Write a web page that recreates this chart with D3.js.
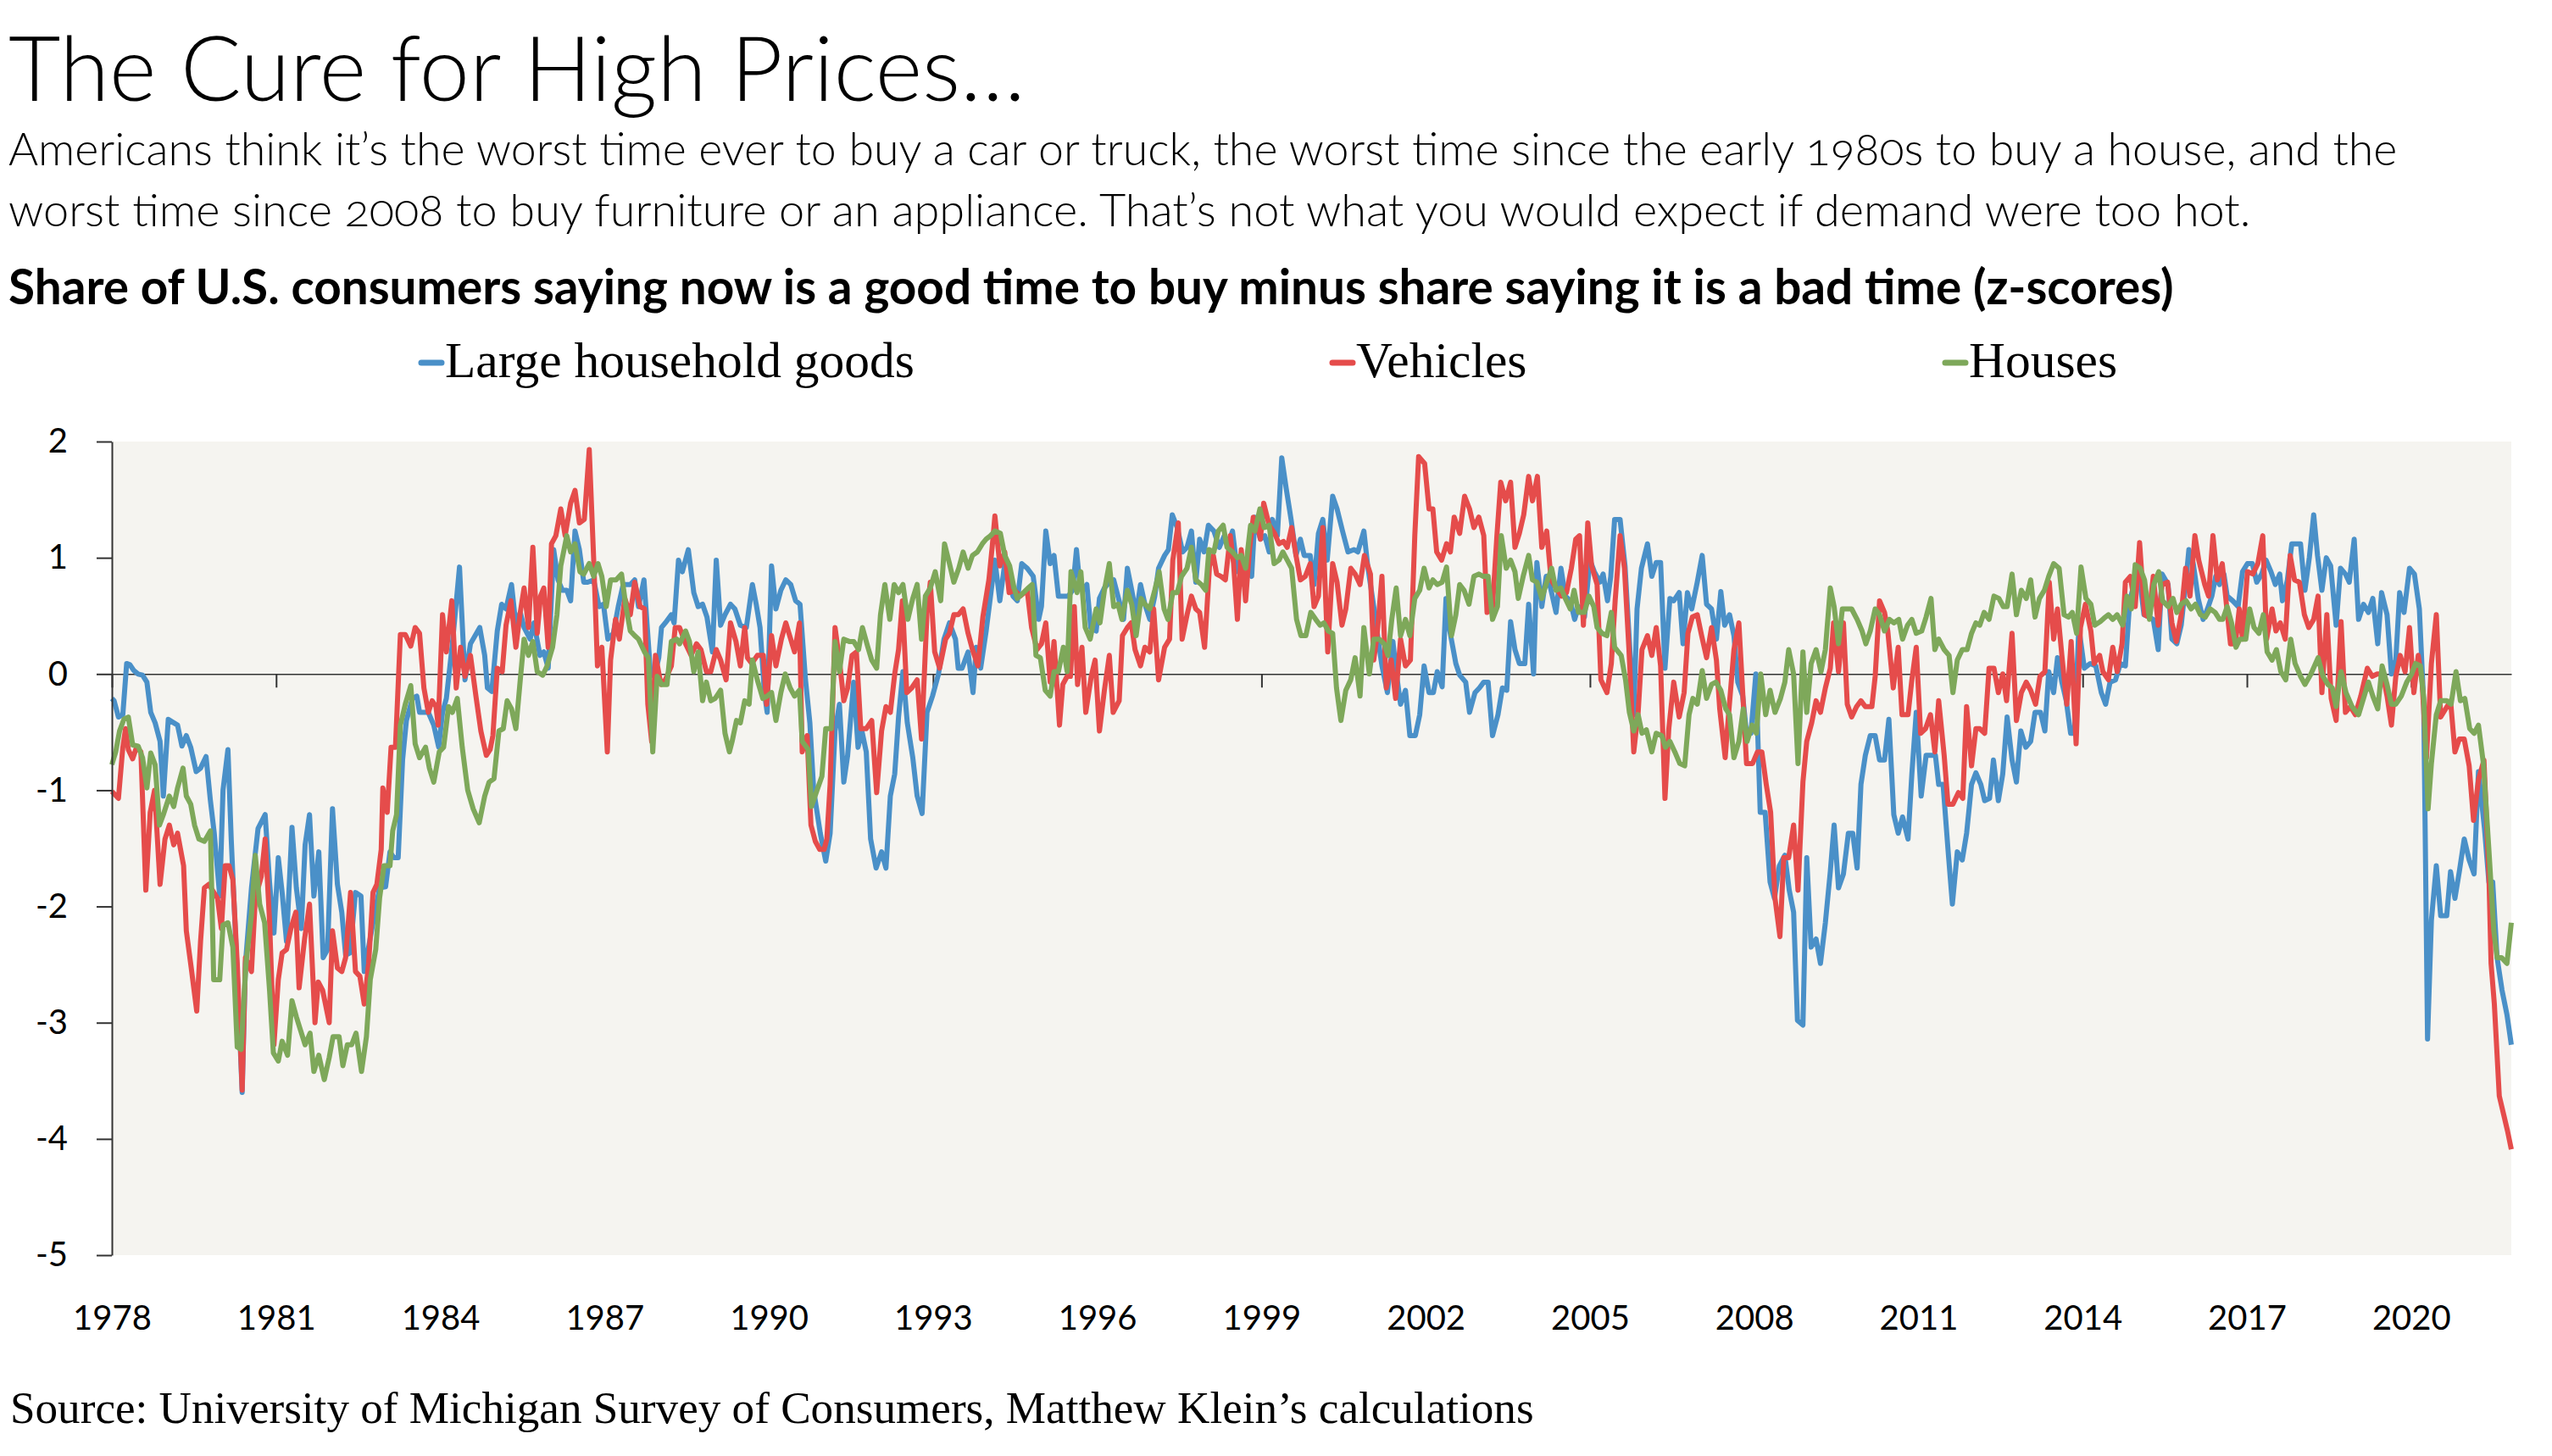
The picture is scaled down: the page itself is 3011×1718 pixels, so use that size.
<!DOCTYPE html>
<html>
<head>
<meta charset="utf-8">
<script src="https://cdn.jsdelivr.net/npm/d3@7"></script>
<style>
  html, body { margin: 0; padding: 0; background: #ffffff; }
  svg { display: block; }
  .oldnum { font-variant-numeric: oldstyle-nums; font-feature-settings: "onum" 1; }
</style>
</head>
<body>
<svg id="chart" width="3011" height="1718"></svg>
<script>
// ---------------- DATA ----------------
const seriesNames = ["Large household goods", "Vehicles", "Houses"];
const xTickYears = [1978, 1981, 1984, 1987, 1990, 1993, 1996, 1999, 2002, 2005, 2008, 2011, 2014, 2017, 2020];
const yTickValues = [2, 1, 0, -1, -2, -3, -4, -5];
const xDomainYears = [1978, 2021.83];

// [decimal year, z-score]
const householdGoods = [
[1978.00,-0.21],[1978.04,-0.23],[1978.12,-0.37],[1978.20,-0.35],[1978.27,0.09],[1978.33,0.08],[1978.40,0.03],[1978.48,0],[1978.56,-0.01],[1978.64,-0.07],[1978.71,-0.33],[1978.79,-0.42],[1978.88,-0.58],[1978.94,-1.05],
[1979.03,-0.39],[1979.13,-0.42],[1979.20,-0.44],[1979.28,-0.62],[1979.36,-0.53],[1979.44,-0.63],[1979.54,-0.84],[1979.62,-0.81],[1979.72,-0.71],[1979.80,-1.09],[1979.87,-1.37],[1979.97,-1.91],
[1980.03,-1.0],[1980.12,-0.65],[1980.18,-1.42],[1980.29,-2.58],[1980.38,-3.6],[1980.44,-2.49],[1980.55,-1.84],[1980.67,-1.33],[1980.80,-1.21],[1980.88,-1.79],[1980.96,-2.23],
[1981.04,-1.58],[1981.11,-1.88],[1981.19,-2.3],[1981.29,-1.32],[1981.37,-1.84],[1981.46,-2.19],[1981.53,-1.47],[1981.61,-1.21],[1981.69,-1.91],[1981.78,-1.53],[1981.86,-2.44],[1981.94,-2.37],
[1982.03,-1.16],[1982.12,-1.81],[1982.20,-2.05],[1982.27,-2.42],[1982.35,-2.4],[1982.45,-1.88],[1982.55,-1.91],[1982.61,-2.56],[1982.69,-2.35],[1982.77,-2.14],[1982.89,-1.84],
[1983.00,-1.83],[1983.08,-1.53],[1983.15,-1.58],[1983.23,-1.58],[1983.31,-0.74],[1983.38,-0.4],[1983.49,-0.21],[1983.57,-0.19],[1983.62,-0.33],[1983.78,-0.33],[1983.88,-0.44],[1983.97,-0.63],
[1984.04,-0.33],[1984.11,-0.21],[1984.22,0.26],[1984.35,0.92],[1984.45,-0.05],[1984.55,0.26],[1984.72,0.4],[1984.81,0.16],[1984.86,-0.12],[1984.94,-0.15],
[1985.04,0.37],[1985.12,0.6],[1985.20,0.56],[1985.30,0.77],[1985.38,0.42],[1985.46,0.53],[1985.53,0.4],[1985.64,0.3],[1985.71,0.44],[1985.82,0.16],[1985.89,0.19],[1985.97,0.05],
[1986.07,1.07],[1986.15,0.81],[1986.23,0.72],[1986.31,0.72],[1986.38,0.63],[1986.46,1.23],[1986.54,1.07],[1986.62,0.79],[1986.69,0.79],[1986.80,0.81],[1986.90,0.58],[1986.98,0.6],
[1987.06,0.3],[1987.16,0.35],[1987.25,0.58],[1987.34,0.77],[1987.47,0.77],[1987.55,0.81],[1987.62,0.58],[1987.72,0.81],[1987.78,0.4],[1987.84,0],[1987.91,-0.02],[1987.99,0.14],
[1988.04,0.4],[1988.11,0.44],[1988.22,0.51],[1988.27,0.44],[1988.35,0.98],[1988.42,0.88],[1988.53,1.07],[1988.63,0.7],[1988.71,0.58],[1988.79,0.6],[1988.87,0.49],[1988.97,0.19],
[1989.04,0.98],[1989.12,0.42],[1989.20,0.51],[1989.30,0.6],[1989.38,0.56],[1989.48,0.42],[1989.59,0.4],[1989.70,0.77],[1989.77,0.6],[1989.84,0.4],[1989.92,-0.16],[1989.97,-0.33],
[1990.05,0.93],[1990.13,0.56],[1990.22,0.72],[1990.31,0.81],[1990.40,0.77],[1990.49,0.63],[1990.57,0.6],[1990.67,-0.05],[1990.75,-0.42],[1990.82,-1.0],[1990.94,-1.37],
[1991.04,-1.61],[1991.12,-1.37],[1991.21,-0.49],[1991.29,-0.26],[1991.37,-0.93],[1991.44,-0.7],[1991.55,-0.07],[1991.63,-0.63],[1991.70,-0.49],[1991.78,-0.67],[1991.86,-1.42],[1991.96,-1.67],
[1992.06,-1.53],[1992.14,-1.67],[1992.22,-1.05],[1992.30,-0.86],[1992.37,-0.37],[1992.45,0.02],[1992.53,-0.42],[1992.63,-0.72],[1992.71,-1.05],[1992.80,-1.2],[1992.89,-0.33],[1992.99,-0.19],
[1993.10,0],[1993.20,0.3],[1993.30,0.44],[1993.41,0.3],[1993.46,0.05],[1993.53,0.05],[1993.64,0.19],[1993.73,-0.16],[1993.79,0.23],[1993.87,0.05],[1993.97,0.37],
[1994.05,0.67],[1994.13,0.98],[1994.22,0.63],[1994.31,0.95],[1994.39,0.81],[1994.46,0.67],[1994.54,0.63],[1994.62,0.95],[1994.72,0.91],[1994.83,0.84],[1994.93,0.47],[1994.98,0.58],
[1995.06,1.23],[1995.14,0.95],[1995.21,1.02],[1995.29,0.67],[1995.47,0.67],[1995.55,0.72],[1995.62,1.07],[1995.68,0.77],[1995.73,0.72],[1995.81,0.77],[1995.88,0.4],[1995.98,0.37],
[1996.04,0.65],[1996.13,0.74],[1996.22,0.79],[1996.30,0.81],[1996.40,0.63],[1996.48,0.47],[1996.55,0.91],[1996.63,0.72],[1996.71,0.51],[1996.79,0.77],[1996.87,0.6],[1996.96,0.47],
[1997.05,0.67],[1997.12,0.91],[1997.23,1.02],[1997.30,1.07],[1997.37,1.37],[1997.46,1.26],[1997.56,1.05],[1997.64,1.09],[1997.72,1.23],[1997.80,0.79],[1997.87,1.16],[1997.95,1.05],
[1998.03,1.28],[1998.13,1.23],[1998.23,1.09],[1998.32,1.19],[1998.39,1.12],[1998.47,1.23],[1998.56,0.88],[1998.65,0.95],[1998.72,0.95],[1998.82,0.84],[1998.88,1.35],[1998.98,1.16],
[1999.06,1.19],[1999.14,1.05],[1999.20,1.33],[1999.29,1.19],[1999.37,1.86],[1999.45,1.6],[1999.54,1.33],[1999.63,1.02],[1999.71,1.16],[1999.78,1.02],[1999.89,1.02],[1999.96,0.77],
[2000.04,1.21],[2000.12,1.33],[2000.20,0.98],[2000.30,1.53],[2000.38,1.42],[2000.48,1.23],[2000.58,1.05],[2000.69,1.07],[2000.76,1.05],[2000.87,1.23],[2000.94,0.93],
[2001.05,0.58],[2001.13,0.3],[2001.20,0.07],[2001.30,-0.16],[2001.40,0.28],[2001.46,0.02],[2001.54,-0.26],[2001.63,-0.14],[2001.71,-0.53],[2001.81,-0.53],[2001.89,-0.35],[2001.97,0.07],
[2002.06,-0.16],[2002.14,-0.16],[2002.21,0.02],[2002.30,-0.11],[2002.37,0.65],[2002.44,0.37],[2002.55,0.09],[2002.62,-0.01],[2002.73,-0.07],[2002.80,-0.33],[2002.90,-0.16],[2002.98,-0.12],
[2003.06,-0.07],[2003.14,-0.07],[2003.22,-0.53],[2003.32,-0.35],[2003.40,-0.12],[2003.48,-0.14],[2003.55,0.45],[2003.63,0.21],[2003.71,0.09],[2003.81,0.09],[2003.88,0.6],[2003.97,0],
[2004.03,0.96],[2004.12,0.58],[2004.20,0.84],[2004.28,0.74],[2004.38,0.53],[2004.47,0.91],[2004.55,0.67],[2004.64,0.63],[2004.72,0.47],[2004.79,0.58],[2004.90,0.49],
[2005.00,0.98],[2005.08,0.88],[2005.18,0.79],[2005.24,0.86],[2005.32,0.63],[2005.38,0.84],[2005.45,1.33],[2005.55,1.33],[2005.64,0.93],[2005.72,0.28],[2005.80,-0.35],[2005.86,0.56],[2005.94,0.91],
[2006.05,1.12],[2006.13,0.84],[2006.21,0.96],[2006.29,0.96],[2006.37,0.05],[2006.46,0.65],[2006.53,0.63],[2006.63,0.7],[2006.70,0.26],[2006.78,0.7],[2006.86,0.56],[2006.96,0.79],
[2007.05,1.02],[2007.13,0.6],[2007.22,0.56],[2007.31,0.3],[2007.39,0.71],[2007.46,0.42],[2007.55,0.51],[2007.63,0.33],[2007.70,-0.07],[2007.79,-0.19],[2007.86,-0.51],[2007.94,-0.51],
[2008.03,0],[2008.11,-1.19],[2008.20,-1.19],[2008.29,-1.79],[2008.37,-1.93],[2008.46,-1.65],[2008.56,-1.56],[2008.64,-1.86],[2008.72,-2.05],[2008.79,-2.98],[2008.89,-3.02],[2008.96,-1.58],
[2009.04,-2.35],[2009.13,-2.28],[2009.21,-2.49],[2009.30,-2.14],[2009.39,-1.7],[2009.46,-1.3],[2009.54,-1.84],[2009.63,-1.72],[2009.72,-1.37],[2009.80,-1.37],[2009.88,-1.67],[2009.95,-0.95],
[2010.03,-0.7],[2010.12,-0.53],[2010.21,-0.53],[2010.29,-0.74],[2010.38,-0.74],[2010.46,-0.39],[2010.55,-1.21],[2010.63,-1.37],[2010.71,-1.23],[2010.81,-1.42],[2010.88,-0.86],[2010.96,-0.33],
[2011.05,-1.05],[2011.14,-0.7],[2011.23,-0.7],[2011.31,-0.7],[2011.37,-0.95],[2011.45,-0.95],[2011.54,-1.51],[2011.62,-1.98],[2011.71,-1.53],[2011.80,-1.6],[2011.88,-1.37],[2011.97,-0.95],
[2012.05,-0.85],[2012.14,-0.95],[2012.21,-1.09],[2012.30,-1.07],[2012.37,-0.74],[2012.46,-1.09],[2012.54,-0.86],[2012.62,-0.37],[2012.71,-0.74],[2012.79,-0.93],[2012.87,-0.49],[2012.96,-0.63],
[2013.05,-0.58],[2013.13,-0.33],[2013.23,-0.33],[2013.31,-0.49],[2013.38,0.02],[2013.47,-0.16],[2013.54,0.14],[2013.62,-0.07],[2013.70,-0.23],[2013.78,-0.51],[2013.85,-0.51],[2013.93,0.4],
[2014.03,0.05],[2014.14,0.09],[2014.24,0.07],[2014.34,-0.16],[2014.42,-0.26],[2014.50,-0.07],[2014.60,-0.05],[2014.69,0.09],[2014.78,0.07],[2014.86,0.63],[2014.95,0.79],
[2015.03,0.86],[2015.12,0.51],[2015.21,0.49],[2015.29,0.47],[2015.38,0.21],[2015.45,0.86],[2015.56,0.77],[2015.63,0.3],[2015.72,0.26],[2015.80,0.42],[2015.88,0.77],[2015.94,1.07],
[2016.02,0.95],[2016.11,0.65],[2016.20,0.47],[2016.28,0.56],[2016.36,0.67],[2016.43,0.84],[2016.50,0.77],[2016.58,0.86],[2016.64,0.67],[2016.74,0.63],[2016.84,0.58],[2016.92,0.88],
[2017.01,0.95],[2017.10,0.95],[2017.18,0.79],[2017.27,0.86],[2017.35,0.98],[2017.44,0.88],[2017.52,0.77],[2017.60,0.86],[2017.65,0.63],[2017.74,0.81],[2017.82,1.12],[2017.91,1.12],[2017.98,1.12],
[2018.06,0.72],[2018.14,1.0],[2018.22,1.37],[2018.29,1.02],[2018.37,0.72],[2018.45,1.0],[2018.53,0.93],[2018.63,0.42],[2018.71,0.91],[2018.80,0.86],[2018.87,0.79],[2018.96,1.16],
[2019.04,0.47],[2019.13,0.6],[2019.22,0.53],[2019.30,0.65],[2019.39,0.26],[2019.46,0.7],[2019.56,0.51],[2019.64,0],[2019.72,0.12],[2019.79,0.7],[2019.87,0.53],[2019.97,0.91],
[2020.06,0.86],[2020.15,0.56],[2020.23,-0.26],[2020.30,-3.14],[2020.37,-2.12],[2020.46,-1.65],[2020.54,-2.08],[2020.65,-2.08],[2020.72,-1.7],[2020.80,-1.93],[2020.88,-1.7],[2020.97,-1.42],
[2021.06,-1.6],[2021.15,-1.72],[2021.23,-0.84],[2021.34,-1.33],[2021.42,-1.79],[2021.49,-1.79],[2021.57,-2.44],[2021.66,-2.72],[2021.75,-2.93],[2021.83,-3.19]
];

const vehicles = [
[1978.00,-1.01],[1978.12,-1.07],[1978.20,-0.63],[1978.25,-0.47],[1978.30,-0.65],[1978.38,-0.73],[1978.45,-0.63],[1978.53,-0.67],[1978.62,-1.86],[1978.70,-1.19],[1978.78,-1.0],[1978.88,-1.81],[1978.97,-1.42],
[1979.05,-1.3],[1979.13,-1.47],[1979.20,-1.37],[1979.31,-1.65],[1979.36,-2.21],[1979.45,-2.53],[1979.55,-2.9],[1979.62,-2.3],[1979.69,-1.84],[1979.77,-1.81],[1979.93,-1.93],
[1980.00,-2.19],[1980.07,-1.65],[1980.14,-1.65],[1980.21,-1.77],[1980.29,-2.49],[1980.38,-3.58],[1980.44,-2.44],[1980.55,-2.56],[1980.62,-1.93],[1980.73,-1.74],[1980.80,-1.42],[1980.88,-2.12],[1980.96,-3.19],
[1981.04,-2.63],[1981.11,-2.4],[1981.19,-2.37],[1981.27,-2.19],[1981.36,-2.05],[1981.42,-2.7],[1981.52,-2.28],[1981.61,-1.98],[1981.71,-3.0],[1981.77,-2.65],[1981.85,-2.72],[1981.97,-3.0],
[1982.03,-2.21],[1982.12,-2.53],[1982.20,-2.56],[1982.27,-2.44],[1982.36,-1.88],[1982.45,-2.56],[1982.53,-2.6],[1982.61,-2.84],[1982.69,-2.49],[1982.77,-1.88],[1982.84,-1.81],[1982.92,-1.51],[1982.95,-0.98],
[1983.03,-1.19],[1983.10,-0.63],[1983.18,-0.63],[1983.27,0.34],[1983.36,0.34],[1983.46,0.24],[1983.54,0.4],[1983.62,0.35],[1983.70,-0.12],[1983.78,-0.33],[1983.85,-0.23],[1983.92,-0.28],[1983.96,-0.44],
[1984.04,0.51],[1984.11,0.19],[1984.21,0.63],[1984.29,-0.12],[1984.37,0.23],[1984.45,-0.02],[1984.55,0.16],[1984.65,-0.19],[1984.74,-0.49],[1984.84,-0.7],[1984.91,-0.65],[1984.96,-0.53],
[1985.04,0.05],[1985.13,0.02],[1985.20,0.42],[1985.29,0.63],[1985.38,0.23],[1985.46,0.53],[1985.53,0.74],[1985.61,0.4],[1985.69,1.09],[1985.77,0.35],[1985.83,0.67],[1985.89,0.74],[1985.97,0.23],
[1986.03,1.12],[1986.11,1.19],[1986.20,1.42],[1986.28,1.19],[1986.38,1.47],[1986.46,1.58],[1986.54,1.3],[1986.63,1.33],[1986.72,1.93],[1986.80,1.0],[1986.87,0.07],[1986.95,0.23],
[1987.05,-0.67],[1987.11,0.12],[1987.20,0.47],[1987.27,0.3],[1987.37,0.65],[1987.47,0.51],[1987.55,0.79],[1987.65,0.58],[1987.73,0.56],[1987.79,-0.26],[1987.86,-0.58],[1987.93,0.16],
[1988.03,-0.09],[1988.11,-0.05],[1988.22,0.07],[1988.29,0.4],[1988.37,0.4],[1988.48,0.26],[1988.58,0.16],[1988.68,0.26],[1988.76,0.21],[1988.86,0.02],[1988.94,0.02],
[1989.04,0.21],[1989.12,0.12],[1989.22,-0.05],[1989.30,0.44],[1989.40,0.28],[1989.48,0.07],[1989.56,0.4],[1989.61,0.14],[1989.69,0.09],[1989.79,0.16],[1989.90,0.16],[1989.96,-0.26],
[1990.05,0.33],[1990.13,0.07],[1990.23,0.3],[1990.31,0.44],[1990.40,0.3],[1990.47,0.19],[1990.56,0.44],[1990.61,-0.67],[1990.70,-0.53],[1990.77,-1.3],[1990.85,-1.44],[1990.93,-1.51],
[1991.01,-1.51],[1991.06,-1.42],[1991.12,-0.95],[1991.21,0.4],[1991.29,0.12],[1991.37,-0.23],[1991.44,-0.12],[1991.52,0.16],[1991.60,0.19],[1991.68,-0.47],[1991.78,-0.47],[1991.88,-0.4],[1991.97,-1.02],
[1992.06,-0.49],[1992.14,-0.28],[1992.22,-0.33],[1992.30,0],[1992.37,0.21],[1992.44,0.63],[1992.52,-0.16],[1992.61,-0.12],[1992.71,-0.05],[1992.79,-0.56],[1992.89,0.53],[1992.95,0.79],
[1993.03,0.19],[1993.12,0.05],[1993.23,0.3],[1993.30,0.35],[1993.38,0.51],[1993.46,0.51],[1993.55,0.56],[1993.64,0.35],[1993.72,0.21],[1993.82,0.07],[1993.91,0.49],
[1994.02,0.81],[1994.08,1.09],[1994.13,1.36],[1994.22,0.93],[1994.31,1.05],[1994.39,0.7],[1994.49,0.72],[1994.59,0.67],[1994.72,0.72],[1994.80,0.4],[1994.90,0.21],[1994.98,0.26],
[1995.06,0.44],[1995.14,-0.07],[1995.21,0.28],[1995.31,-0.44],[1995.37,-0.09],[1995.45,-0.02],[1995.51,-0.02],[1995.58,0.58],[1995.64,-0.09],[1995.72,0.23],[1995.79,-0.33],[1995.89,-0.02],[1995.96,0.12],
[1996.04,-0.49],[1996.13,-0.14],[1996.22,0.16],[1996.29,-0.33],[1996.40,-0.23],[1996.46,0.33],[1996.55,0.4],[1996.62,0.44],[1996.69,0.21],[1996.79,0.07],[1996.87,0.23],[1996.96,0.19],
[1997.03,0.56],[1997.12,-0.05],[1997.23,0.23],[1997.32,0.3],[1997.38,0.98],[1997.48,1.3],[1997.55,0.3],[1997.64,0.51],[1997.72,0.67],[1997.80,0.56],[1997.87,0.53],[1997.96,0.23],
[1998.05,0.93],[1998.12,1.02],[1998.18,0.86],[1998.26,0.84],[1998.34,0.81],[1998.43,1.19],[1998.49,0.95],[1998.56,0.47],[1998.63,1.07],[1998.71,0.63],[1998.78,1.07],[1998.85,1.35],[1998.93,1.28],[1998.98,1.16],
[1999.04,1.47],[1999.14,1.28],[1999.24,1.21],[1999.32,1.12],[1999.40,1.14],[1999.47,1.09],[1999.55,1.26],[1999.63,1.02],[1999.71,0.81],[1999.80,0.84],[1999.89,0.95],[1999.96,0.58],
[2000.04,0.67],[2000.12,1.26],[2000.21,0.19],[2000.30,0.95],[2000.38,0.79],[2000.47,0.42],[2000.54,0.56],[2000.63,0.91],[2000.71,0.86],[2000.80,0.77],[2000.88,1.02],[2000.99,0.86],
[2001.05,0.12],[2001.11,0.33],[2001.20,0.84],[2001.28,-0.12],[2001.37,0.12],[2001.45,-0.21],[2001.54,0.3],[2001.63,0.07],[2001.72,0.12],[2001.80,1.19],[2001.87,1.87],[2001.98,1.81],
[2002.06,1.42],[2002.13,1.42],[2002.20,1.05],[2002.29,0.98],[2002.38,1.12],[2002.45,1.05],[2002.52,1.35],[2002.62,1.21],[2002.71,1.53],[2002.80,1.42],[2002.88,1.26],[2002.97,1.35],
[2003.06,1.19],[2003.12,0.53],[2003.22,0.58],[2003.30,1.19],[2003.37,1.65],[2003.46,1.49],[2003.55,1.65],[2003.63,1.09],[2003.71,1.21],[2003.79,1.37],[2003.88,1.7],[2003.95,1.49],
[2004.04,1.7],[2004.12,1.09],[2004.21,1.23],[2004.29,0.81],[2004.38,0.74],[2004.48,0.67],[2004.57,0.7],[2004.66,0.91],[2004.74,1.16],[2004.81,1.19],[2004.88,0.42],[2004.96,1.3],
[2005.03,0.93],[2005.13,0.77],[2005.20,-0.05],[2005.31,-0.16],[2005.39,0.09],[2005.46,0.63],[2005.55,1.19],[2005.63,0.91],[2005.71,0.23],[2005.80,-0.67],[2005.88,-0.33],[2005.95,0.21],
[2006.05,0.33],[2006.13,0.16],[2006.21,0.4],[2006.29,0.07],[2006.37,-1.07],[2006.44,-0.47],[2006.53,-0.07],[2006.63,-0.37],[2006.72,-0.16],[2006.79,0.35],[2006.87,0.49],[2006.96,0.51],
[2007.04,0.33],[2007.13,0.14],[2007.22,0.4],[2007.31,0.12],[2007.37,-0.3],[2007.47,-0.72],[2007.54,-0.3],[2007.63,0.21],[2007.72,0.44],[2007.79,-0.16],[2007.86,-0.77],[2007.97,-0.77],
[2008.06,-0.67],[2008.14,-0.67],[2008.22,-0.95],[2008.30,-1.19],[2008.38,-1.93],[2008.47,-2.26],[2008.54,-1.58],[2008.63,-1.58],[2008.72,-1.3],[2008.80,-1.86],[2008.89,-0.93],[2008.96,-0.58],
[2009.05,-0.42],[2009.13,-0.23],[2009.21,-0.33],[2009.30,-0.12],[2009.39,0.05],[2009.45,0.44],[2009.54,0.02],[2009.63,0.44],[2009.70,-0.26],[2009.78,-0.37],[2009.87,-0.28],[2009.95,-0.23],
[2010.03,-0.28],[2010.15,-0.28],[2010.21,-0.02],[2010.29,0.63],[2010.38,0.53],[2010.44,0.37],[2010.54,-0.12],[2010.63,0.23],[2010.70,-0.35],[2010.81,-0.35],[2010.88,-0.05],[2010.96,0.23],
[2011.04,-0.51],[2011.13,-0.47],[2011.22,-0.35],[2011.30,-0.67],[2011.37,-0.23],[2011.47,-0.7],[2011.54,-1.12],[2011.63,-1.12],[2011.73,-1.02],[2011.81,-1.07],[2011.88,-0.28],[2011.97,-0.79],
[2012.05,-0.47],[2012.12,-0.47],[2012.21,-0.51],[2012.29,0.05],[2012.38,0.05],[2012.46,-0.16],[2012.54,0],[2012.61,-0.23],[2012.71,0.35],[2012.79,-0.4],[2012.88,-0.16],[2012.97,-0.07],
[2013.05,-0.14],[2013.14,-0.26],[2013.22,-0.02],[2013.31,0.02],[2013.39,0.79],[2013.47,0.3],[2013.54,0.56],[2013.62,0.16],[2013.71,-0.26],[2013.79,0.28],[2013.88,-0.6],[2013.96,0.4],
[2014.05,0.6],[2014.15,0.37],[2014.21,0.09],[2014.31,0.16],[2014.37,0.02],[2014.47,-0.05],[2014.55,0.23],[2014.63,0.02],[2014.72,0.26],[2014.78,0.79],[2014.87,0.84],[2014.96,0.58],
[2015.04,1.13],[2015.13,0.51],[2015.21,0.49],[2015.29,0.84],[2015.38,0.42],[2015.45,0.77],[2015.55,0.79],[2015.63,0.44],[2015.71,0.28],[2015.80,0.51],[2015.88,0.91],[2015.96,0.67],
[2016.05,1.19],[2016.12,0.98],[2016.23,0.77],[2016.30,0.67],[2016.38,1.19],[2016.46,0.81],[2016.55,0.95],[2016.63,0.58],[2016.70,0.26],[2016.79,0.26],[2016.86,0.56],[2016.92,0.3],
[2017.01,0.88],[2017.11,0.86],[2017.20,0.95],[2017.29,1.19],[2017.36,0.3],[2017.46,0.56],[2017.53,0.37],[2017.61,0.44],[2017.70,0.3],[2017.79,1.02],[2017.87,0.81],[2017.96,0.79],
[2018.05,0.51],[2018.13,0.4],[2018.22,0.47],[2018.30,0.67],[2018.37,-0.16],[2018.46,0.51],[2018.54,-0.21],[2018.63,-0.4],[2018.72,0.45],[2018.80,-0.33],[2018.89,-0.28],[2018.98,-0.35],
[2019.08,-0.19],[2019.20,0.05],[2019.29,-0.02],[2019.38,0],[2019.48,0],[2019.56,-0.19],[2019.64,-0.44],[2019.72,-0.02],[2019.80,0.16],[2019.89,0.02],[2019.97,0.4],
[2020.05,-0.16],[2020.13,0.16],[2020.20,-0.07],[2020.28,-0.72],[2020.37,0.09],[2020.46,0.51],[2020.54,-0.37],[2020.63,-0.3],[2020.72,-0.23],[2020.80,-0.67],[2020.88,-0.56],[2020.97,-0.56],
[2021.06,-0.79],[2021.14,-1.26],[2021.23,-0.91],[2021.33,-0.74],[2021.42,-1.72],[2021.46,-2.49],[2021.52,-2.84],[2021.61,-3.63],[2021.69,-3.79],[2021.76,-3.93],[2021.83,-4.09]
];

const houses = [
[1978.00,-0.78],[1978.07,-0.67],[1978.14,-0.49],[1978.22,-0.39],[1978.30,-0.37],[1978.38,-0.61],[1978.48,-0.62],[1978.56,-0.72],[1978.64,-0.98],[1978.71,-0.68],[1978.79,-0.78],[1978.87,-1.3],[1978.94,-1.21],
[1979.05,-1.05],[1979.13,-1.14],[1979.20,-0.98],[1979.30,-0.81],[1979.36,-1.05],[1979.44,-1.12],[1979.51,-1.3],[1979.59,-1.42],[1979.69,-1.44],[1979.80,-1.35],[1979.86,-2.63],[1979.97,-2.63],
[1980.03,-2.16],[1980.12,-2.14],[1980.21,-2.35],[1980.29,-3.21],[1980.36,-3.23],[1980.45,-2.49],[1980.55,-2.07],[1980.62,-1.56],[1980.70,-1.98],[1980.79,-2.14],[1980.88,-2.72],[1980.95,-3.26],
[1981.04,-3.33],[1981.11,-3.16],[1981.21,-3.28],[1981.29,-2.81],[1981.37,-2.95],[1981.45,-3.07],[1981.53,-3.19],[1981.62,-3.09],[1981.69,-3.42],[1981.78,-3.28],[1981.88,-3.49],[1981.97,-3.3],
[1982.04,-3.12],[1982.15,-3.12],[1982.22,-3.37],[1982.30,-3.19],[1982.38,-3.19],[1982.46,-3.09],[1982.56,-3.42],[1982.65,-3.12],[1982.72,-2.63],[1982.82,-2.37],[1982.89,-1.93],[1982.97,-1.65],
[1983.08,-1.65],[1983.13,-1.35],[1983.20,-1.21],[1983.27,-0.44],[1983.36,-0.26],[1983.46,-0.10],[1983.54,-0.6],[1983.62,-0.72],[1983.73,-0.63],[1983.80,-0.81],[1983.88,-0.93],[1983.98,-0.67],
[1984.06,-0.63],[1984.15,-0.28],[1984.22,-0.33],[1984.31,-0.21],[1984.40,-0.63],[1984.50,-1.0],[1984.60,-1.16],[1984.71,-1.28],[1984.81,-1.05],[1984.89,-0.93],[1984.98,-0.9],
[1985.07,-0.49],[1985.15,-0.47],[1985.22,-0.23],[1985.30,-0.3],[1985.38,-0.47],[1985.46,-0.05],[1985.53,0.3],[1985.61,0.16],[1985.69,0.28],[1985.77,0.02],[1985.87,-0.01],[1985.95,0.07],
[1986.05,0.23],[1986.13,0.51],[1986.20,0.93],[1986.31,1.19],[1986.38,1.05],[1986.46,1.12],[1986.55,0.88],[1986.62,0.86],[1986.72,0.95],[1986.80,0.84],[1986.88,0.95],[1986.95,0.84],
[1987.03,0.58],[1987.11,0.81],[1987.21,0.81],[1987.31,0.86],[1987.39,0.58],[1987.47,0.37],[1987.55,0.33],[1987.62,0.3],[1987.73,0.19],[1987.80,0.14],[1987.88,-0.67],[1987.96,-0.02],
[1988.04,-0.09],[1988.14,-0.09],[1988.22,0.28],[1988.32,0.3],[1988.37,0.26],[1988.48,0.37],[1988.55,0.28],[1988.63,0.02],[1988.71,0.19],[1988.79,-0.23],[1988.86,-0.07],[1988.94,-0.23],
[1989.02,-0.21],[1989.12,-0.14],[1989.20,-0.51],[1989.28,-0.67],[1989.33,-0.58],[1989.41,-0.4],[1989.48,-0.42],[1989.56,-0.23],[1989.64,-0.26],[1989.70,0.12],[1989.79,-0.05],[1989.89,-0.21],[1989.97,-0.19],
[1990.05,-0.16],[1990.13,-0.4],[1990.22,-0.16],[1990.30,0],[1990.39,-0.12],[1990.47,-0.19],[1990.56,-0.14],[1990.61,-0.58],[1990.72,-0.65],[1990.78,-1.14],[1990.88,-1.0],[1990.97,-0.88],
[1991.04,-0.47],[1991.14,-0.47],[1991.21,0.28],[1991.29,0.02],[1991.37,0.3],[1991.47,0.28],[1991.55,0.28],[1991.64,0.21],[1991.71,0.4],[1991.81,0.23],[1991.88,0.12],[1991.97,0.05],
[1992.04,0.51],[1992.12,0.77],[1992.21,0.47],[1992.29,0.77],[1992.37,0.7],[1992.45,0.77],[1992.54,0.47],[1992.63,0.65],[1992.71,0.77],[1992.79,0.3],[1992.86,0.67],[1992.95,0.74],
[1993.04,0.88],[1993.14,0.63],[1993.21,1.12],[1993.30,0.95],[1993.38,0.79],[1993.47,0.91],[1993.55,1.05],[1993.64,0.91],[1993.72,1.02],[1993.81,1.05],[1993.90,1.12],[1993.97,1.16],
[1994.05,1.19],[1994.13,1.23],[1994.23,1.21],[1994.31,1.02],[1994.40,0.93],[1994.48,0.74],[1994.54,0.65],[1994.65,0.7],[1994.74,0.74],[1994.81,0.77],[1994.88,0.16],[1994.96,0.14],
[1995.05,-0.14],[1995.14,-0.19],[1995.21,0.02],[1995.29,0.02],[1995.38,0.23],[1995.45,0.02],[1995.52,0.88],[1995.63,0.7],[1995.70,0.88],[1995.78,0.4],[1995.87,0.3],[1995.98,0.56],
[1996.05,0.44],[1996.13,0.72],[1996.22,0.95],[1996.30,0.58],[1996.38,0.6],[1996.45,0.47],[1996.55,0.72],[1996.63,0.6],[1996.71,0.33],[1996.80,0.65],[1996.87,0.6],[1996.96,0.56],
[1997.05,0.72],[1997.13,0.88],[1997.22,0.56],[1997.29,0.47],[1997.38,0.7],[1997.46,0.7],[1997.54,0.84],[1997.64,0.91],[1997.72,1.09],[1997.80,0.81],[1997.90,0.77],[1997.98,0.72],
[1998.04,1.07],[1998.13,1.05],[1998.21,1.23],[1998.30,1.28],[1998.37,1.09],[1998.47,1.05],[1998.56,1.0],[1998.63,1.02],[1998.71,0.91],[1998.80,1.28],[1998.88,1.23],[1998.97,1.42],
[1999.05,1.26],[1999.14,1.28],[1999.23,0.95],[1999.32,0.98],[1999.39,1.05],[1999.47,0.98],[1999.55,0.91],[1999.64,0.47],[1999.72,0.33],[1999.81,0.33],[1999.90,0.53],[1999.99,0.47],
[2000.07,0.42],[2000.14,0.44],[2000.22,0.37],[2000.30,0.35],[2000.37,-0.12],[2000.45,-0.4],[2000.54,-0.14],[2000.63,-0.05],[2000.71,0.14],[2000.80,-0.19],[2000.87,0.4],[2000.97,0],
[2001.05,0.3],[2001.15,0.3],[2001.24,0.26],[2001.31,0.16],[2001.38,0.47],[2001.46,0.74],[2001.54,0.33],[2001.63,0.47],[2001.71,0.33],[2001.80,0.65],[2001.89,0.72],[2001.97,0.91],
[2002.06,0.74],[2002.13,0.81],[2002.21,0.77],[2002.30,0.79],[2002.38,0.92],[2002.47,0.33],[2002.55,0.51],[2002.62,0.77],[2002.70,0.72],[2002.79,0.6],[2002.88,0.84],[2002.97,0.86],
[2003.05,0.84],[2003.14,0.84],[2003.22,0.47],[2003.31,0.58],[2003.38,1.19],[2003.47,0.91],[2003.55,0.98],[2003.63,0.88],[2003.69,0.65],[2003.78,0.84],[2003.88,1.02],[2003.95,0.81],
[2004.03,0.79],[2004.12,0.65],[2004.21,0.79],[2004.30,0.91],[2004.38,0.72],[2004.47,0.74],[2004.55,0.65],[2004.64,0.56],[2004.71,0.72],[2004.79,0.53],[2004.90,0.53],[2004.98,0.67],
[2005.07,0.58],[2005.13,0.4],[2005.22,0.35],[2005.31,0.33],[2005.39,0.53],[2005.45,0.23],[2005.57,0.16],[2005.65,-0.05],[2005.72,-0.33],[2005.80,-0.49],[2005.88,-0.35],[2005.95,-0.51],
[2006.03,-0.48],[2006.13,-0.67],[2006.21,-0.51],[2006.31,-0.53],[2006.38,-0.63],[2006.46,-0.58],[2006.55,-0.67],[2006.64,-0.77],[2006.73,-0.79],[2006.81,-0.35],[2006.88,-0.21],[2006.96,-0.26],
[2007.05,0.03],[2007.13,-0.21],[2007.22,-0.09],[2007.30,-0.07],[2007.39,-0.14],[2007.48,-0.3],[2007.55,-0.35],[2007.63,-0.72],[2007.72,-0.58],[2007.80,-0.3],[2007.87,-0.58],[2007.96,-0.44],
[2008.04,-0.51],[2008.12,0],[2008.21,-0.35],[2008.29,-0.14],[2008.38,-0.33],[2008.48,-0.21],[2008.56,-0.07],[2008.63,0.21],[2008.72,0],[2008.80,-0.77],[2008.89,0.19],[2008.96,-0.33],
[2009.04,0.09],[2009.13,0.21],[2009.22,0.02],[2009.30,0.21],[2009.39,0.74],[2009.46,0.58],[2009.54,0.26],[2009.61,0.56],[2009.70,0.56],[2009.78,0.56],[2009.88,0.47],[2009.97,0.37],
[2010.04,0.26],[2010.12,0.37],[2010.21,0.56],[2010.29,0.51],[2010.38,0.37],[2010.47,0.47],[2010.55,0.44],[2010.64,0.47],[2010.71,0.3],[2010.80,0.42],[2010.88,0.47],[2010.96,0.35],
[2011.06,0.37],[2011.14,0.49],[2011.23,0.65],[2011.30,0.21],[2011.37,0.3],[2011.47,0.21],[2011.56,0.16],[2011.63,-0.16],[2011.71,0.12],[2011.80,0.21],[2011.89,0.21],[2011.97,0.35],
[2012.05,0.44],[2012.12,0.42],[2012.20,0.53],[2012.29,0.47],[2012.38,0.67],[2012.47,0.65],[2012.55,0.58],[2012.62,0.58],[2012.71,0.86],[2012.79,0.51],[2012.88,0.72],[2012.97,0.65],
[2013.05,0.81],[2013.13,0.49],[2013.21,0.65],[2013.30,0.72],[2013.38,0.84],[2013.47,0.95],[2013.57,0.91],[2013.66,0.51],[2013.74,0.49],[2013.81,0.53],[2013.89,0.35],[2013.97,0.92],
[2014.06,0.65],[2014.15,0.6],[2014.22,0.42],[2014.32,0.45],[2014.39,0.48],[2014.47,0.51],[2014.55,0.47],[2014.63,0.51],[2014.73,0.42],[2014.81,0.67],[2014.89,0.56],[2014.96,0.94],
[2015.05,0.91],[2015.13,0.81],[2015.22,0.47],[2015.30,0.77],[2015.39,0.88],[2015.46,0.63],[2015.56,0.58],[2015.65,0.65],[2015.72,0.53],[2015.80,0.6],[2015.89,0.63],[2015.98,0.56],
[2016.06,0.6],[2016.15,0.51],[2016.24,0.49],[2016.33,0.56],[2016.42,0.53],[2016.50,0.47],[2016.56,0.47],[2016.64,0.58],[2016.72,0.44],[2016.80,0.23],[2016.87,0.3],[2016.98,0.3],
[2017.05,0.56],[2017.13,0.4],[2017.22,0.35],[2017.30,0.51],[2017.37,0.19],[2017.46,0.12],[2017.54,0.21],[2017.62,0.02],[2017.71,-0.05],[2017.80,0.3],[2017.88,0.09],[2017.98,-0.02],
[2018.06,-0.09],[2018.17,0],[2018.30,0.14],[2018.39,-0.02],[2018.48,-0.09],[2018.56,-0.12],[2018.63,-0.28],[2018.72,0.02],[2018.81,-0.16],[2018.92,-0.28],
[2019.04,-0.35],[2019.13,-0.21],[2019.22,-0.07],[2019.30,-0.19],[2019.39,-0.3],[2019.47,0.07],[2019.56,-0.09],[2019.64,-0.26],[2019.72,-0.26],[2019.82,-0.19],[2019.92,-0.07],
[2020.01,0],[2020.08,0.09],[2020.17,0.07],[2020.23,-0.21],[2020.31,-1.16],[2020.37,-0.77],[2020.46,-0.35],[2020.54,-0.23],[2020.65,-0.23],[2020.73,-0.26],[2020.82,0.02],[2020.90,-0.23],[2020.98,-0.21],
[2021.07,-0.47],[2021.15,-0.51],[2021.23,-0.44],[2021.32,-0.77],[2021.42,-1.51],[2021.51,-2.21],[2021.57,-2.44],[2021.65,-2.44],[2021.75,-2.49],[2021.83,-2.14]
];

// ---------------- STYLE / LAYOUT ----------------
const seriesColors = ["#4a90c8", "#e54c4b", "#7ea85a"];
const W = 3011, H = 1718;
const plot = { left: 132, right: 2963, top: 521, bottom: 1481 };
const sansFont = "Lato, 'Open Sans', 'Noto Sans', sans-serif";
const serifFont = "'Liberation Serif', 'DejaVu Serif', serif";

const svg = d3.select("#chart").attr("viewBox", `0 0 ${W} ${H}`);
svg.append("rect").attr("width", W).attr("height", H).attr("fill", "#ffffff");

const x = d3.scaleLinear().domain(xDomainYears).range([plot.left, plot.right]);
const y = d3.scaleLinear().domain([-5, 2]).range([plot.bottom, plot.top]);

function fitWidth(sel, target) {
  const w = sel.node().getComputedTextLength();
  const fs = parseFloat(sel.attr("font-size"));
  if (w > 0) sel.attr("font-size", (fs * target / w).toFixed(2));
  return sel;
}

// Titles
const title = svg.append("text").attr("x", 10).attr("y", 119)
  .attr("font-family", sansFont).attr("font-weight", 300).attr("font-size", 96)
  .attr("fill", "#000").text("The Cure for High Prices\u2026");
fitWidth(title, 1200);

const sub1 = svg.append("text").attr("x", 10).attr("y", 195).attr("class", "oldnum")
  .attr("font-family", sansFont).attr("font-weight", 300).attr("font-size", 52)
  .attr("fill", "#000")
  .text("Americans think it\u2019s the worst time ever to buy a car or truck, the worst time since the early 1980s to buy a house, and the");
fitWidth(sub1, 2819);
const sub2 = svg.append("text").attr("x", 10).attr("y", 267).attr("class", "oldnum")
  .attr("font-family", sansFont).attr("font-weight", 300).attr("font-size", 52)
  .attr("fill", "#000")
  .text("worst time since 2008 to buy furniture or an appliance. That\u2019s not what you would expect if demand were too hot.");
fitWidth(sub2, 2646);

const sub3 = svg.append("text").attr("x", 10).attr("y", 359)
  .attr("font-family", sansFont).attr("font-weight", 700).attr("font-size", 52)
  .attr("fill", "#000")
  .text("Share of U.S. consumers saying now is a good time to buy minus share saying it is a bad time (z-scores)");
fitWidth(sub3, 2555);

// Legend
const legendX = [494, 1569, 2292];
const legendTextW = [554, 200, 177];
const legend = svg.append("g");
let legendFont = 58;
seriesNames.forEach((name, i) => {
  legend.append("line")
    .attr("x1", legendX[i] + 3).attr("x2", legendX[i] + 27)
    .attr("y1", 428).attr("y2", 428)
    .attr("stroke", seriesColors[i]).attr("stroke-width", 7).attr("stroke-linecap", "round");
  const t = legend.append("text")
    .attr("x", legendX[i] + 31).attr("y", 445)
    .attr("font-family", serifFont).attr("font-size", 58).attr("fill", "#000")
    .text(name);
  if (i === 0) { fitWidth(t, legendTextW[0]); legendFont = +t.attr("font-size"); }
  else t.attr("font-size", legendFont);
});

// Plot background
svg.append("rect")
  .attr("x", plot.left).attr("y", plot.top)
  .attr("width", plot.right - plot.left).attr("height", plot.bottom - plot.top)
  .attr("fill", "#f5f4f0");

// Zero-crossing horizontal axis with ticks
const xAxisZero = svg.append("g")
  .attr("transform", `translate(0,${y(0)})`)
  .call(d3.axisBottom(x).tickValues(xTickYears).tickSize(16).tickSizeOuter(0).tickFormat(""));
xAxisZero.select(".domain").attr("stroke", "#333").attr("stroke-width", 1.6);
xAxisZero.selectAll(".tick line").attr("stroke", "#333").attr("stroke-width", 2);

// Series lines
const line = d3.line().x(d => x(d[0])).y(d => y(d[1]));
const allSeries = [householdGoods, vehicles, houses];
allSeries.forEach((data, i) => {
  svg.append("path")
    .datum(data)
    .attr("fill", "none")
    .attr("stroke", seriesColors[i])
    .attr("stroke-width", 6)
    .attr("stroke-linejoin", "round")
    .attr("stroke-linecap", "butt")
    .attr("d", line);
});

// Y axis
const yAxis = svg.append("g")
  .attr("transform", `translate(${plot.left},0)`)
  .call(d3.axisLeft(y).tickValues(yTickValues).tickSize(18).tickSizeOuter(0).tickPadding(34)
    .tickFormat(d => String(d)));
yAxis.select(".domain").attr("stroke", "#333").attr("stroke-width", 2);
yAxis.selectAll(".tick line").attr("stroke", "#333").attr("stroke-width", 2);
yAxis.selectAll(".tick text").attr("font-family", sansFont).attr("font-size", 40).attr("fill", "#000");

// Bottom year labels
const xLabels = svg.append("g")
  .attr("transform", `translate(0,${plot.bottom})`)
  .call(d3.axisBottom(x).tickValues(xTickYears).tickSize(0).tickPadding(60).tickFormat(d3.format("d")));
xLabels.select(".domain").remove();
xLabels.selectAll(".tick text").attr("font-family", sansFont).attr("font-size", 40).attr("fill", "#000");

// Source
const source = svg.append("text").attr("x", 12).attr("y", 1679)
  .attr("font-family", serifFont).attr("font-size", 50).attr("fill", "#000")
  .text("Source: University of Michigan Survey of Consumers, Matthew Klein\u2019s calculations");
fitWidth(source, 1798);
</script>
</body>
</html>
